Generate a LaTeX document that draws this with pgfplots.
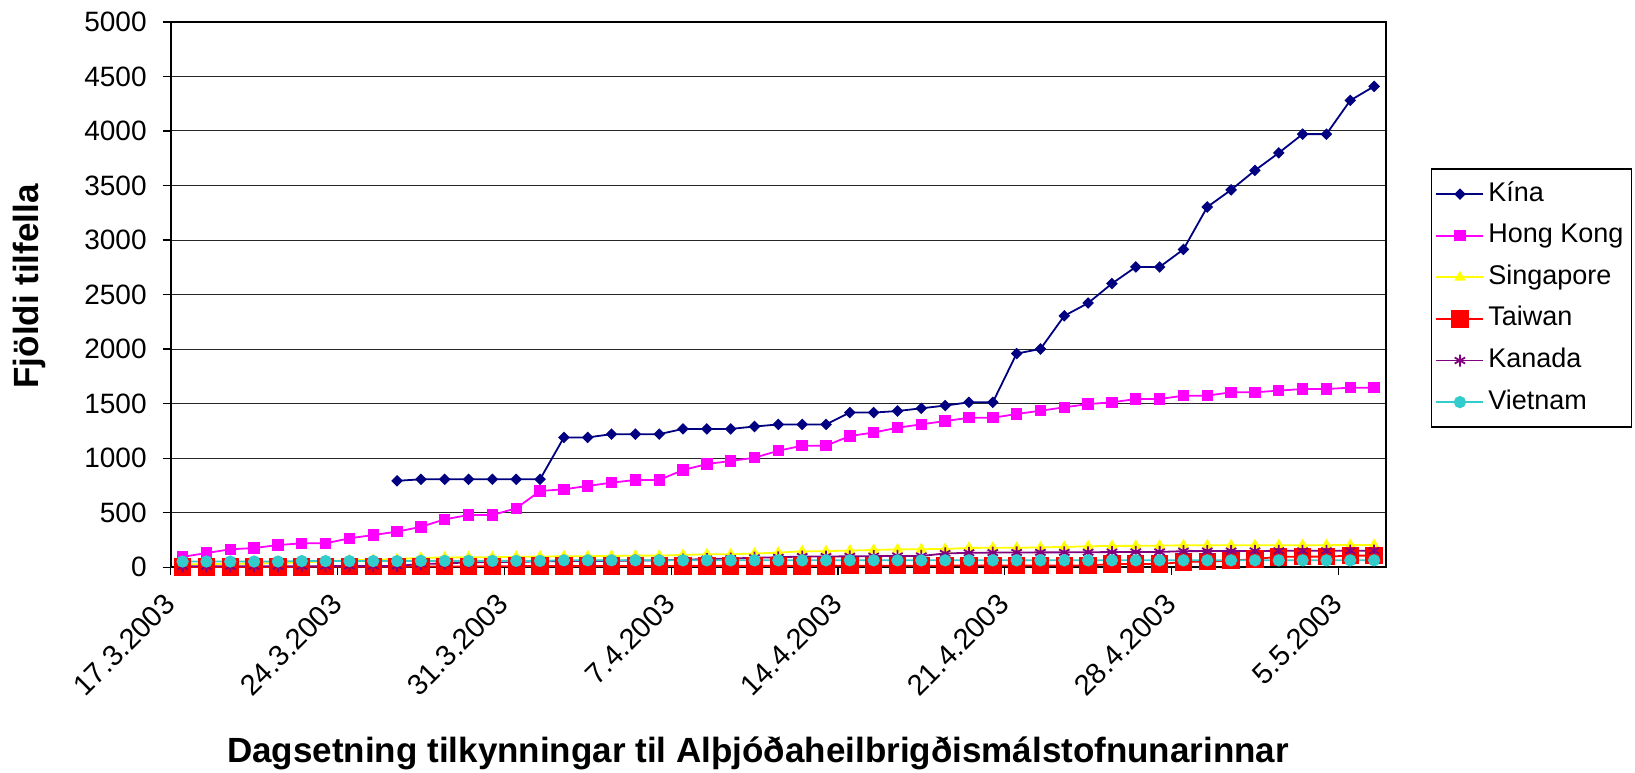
\documentclass[border=0pt]{standalone}
\usepackage{fontspec}
\setmainfont{Liberation Sans}
\usepackage{pgfplots}
\usepackage{pgfplotstable}
\pgfplotsset{compat=1.18}
\definecolor{kina}{RGB}{0,0,128}
\definecolor{hk}{RGB}{255,0,255}
\definecolor{sg}{RGB}{255,255,0}
\definecolor{tw}{RGB}{255,0,0}
\definecolor{ca}{RGB}{128,0,128}
\definecolor{vn}{RGB}{51,204,204}
\pgfplotstableread{
d china hk sg tw ca vn
0 nan 95 25 2 8 52
1 nan 130 28 2 8 52
2 nan 164 31 2 8 52
3 nan 176 34 2 9 52
4 nan 203 39 2 9 52
5 nan 219 44 3 9 56
6 nan 219 54 4 10 56
7 nan 265 65 4 11 56
8 nan 295 69 4 11 56
9 792 326 74 5 12 56
10 806 370 86 6 29 58
11 806 439 89 6 35 58
12 806 479 91 8 44 58
13 806 479 92 8 47 58
14 806 540 95 10 48 58
15 806 699 98 10 54 58
16 1190 714 100 10 56 63
17 1190 745 101 10 58 63
18 1220 775 103 10 58 63
19 1220 800 106 10 62 63
20 1220 800 106 10 62 63
21 1268 891 113 12 69 63
22 1268 946 118 12 74 63
23 1268 974 118 12 79 63
24 1290 1004 126 12 87 63
25 1309 1068 133 12 91 63
26 1309 1114 147 12 98 63
27 1309 1114 147 12 98 63
28 1418 1203 153 14 100 63
29 1418 1235 158 14 101 63
30 1432 1279 163 14 103 63
31 1457 1310 165 14 103 63
32 1482 1340 167 14 126 63
33 1512 1370 177 16 132 63
34 1512 1370 178 16 134 63
35 1959 1405 178 16 135 63
36 2001 1435 182 16 136 63
37 2305 1466 186 16 136 63
38 2422 1496 192 16 137 63
39 2601 1512 195 29 139 63
40 2753 1542 196 29 140 63
41 2753 1542 198 29 140 63
42 2914 1573 201 48 147 63
43 3303 1573 201 51 148 63
44 3460 1604 201 60 148 63
45 3638 1604 201 75 149 63
46 3799 1619 202 95 150 63
47 3971 1634 202 97 150 63
48 3971 1634 202 97 150 63
49 4280 1646 203 106 151 63
50 4409 1646 203 106 151 63
}\data
\begin{document}
\begin{tikzpicture}
\begin{axis}[
  scale only axis, width=607.65pt, height=272.65pt,
  xmin=0, xmax=51, ymin=0, ymax=5000,
  xtick={0,7,14,21,28,35,42,49},
  xticklabels={17.3.2003,24.3.2003,31.3.2003,7.4.2003,14.4.2003,21.4.2003,28.4.2003,5.5.2003},
  ytick distance=500,
  tick align=outside, tick pos=left,
  major tick length=4pt,
  tick style={black, line width=0.6pt},
  ymajorgrids, grid style={black!85, line width=0.5pt},
  axis line style={black, line width=0.9pt},
  /pgf/number format/assume math mode=true,
  /pgf/number format/1000 sep={},
  yticklabel style={font=\fontsize{14}{16}\selectfont, xshift=-4.5pt},
  xticklabel shift=9.5pt,
  xticklabel style={font=\fontsize{14.5}{16}\selectfont, xshift=2pt, rotate=45, anchor=east},
  xlabel={Dagsetning tilkynningar til Alþjóðaheilbrigðismálstofnunarinnar},
  ylabel={Fjöldi tilfella},
  every axis y label/.style={at={(axis description cs:-0.1166,0.515)}, rotate=90, anchor=center, font=\bfseries\fontsize{17.5}{20}\selectfont},
  every axis x label/.style={at={(axis description cs:0.4833,-0.3407)}, anchor=center, font=\bfseries\fontsize{17.5}{20}\selectfont},
  legend style={at={(axis description cs:1.0368,0.7315)}, anchor=north west,
    draw=black, line width=0.8pt, inner xsep=2pt, inner ysep=4pt, row sep=3.8pt,
    font=\fontsize{13.5}{16}\selectfont,
    nodes={inner sep=2pt, text height=10pt, text depth=3pt}},
  legend cell align=left,
  legend image code/.code={\draw[mark repeat=2,mark phase=2,#1] plot coordinates {(0pt,0pt) (11.75pt,0pt) (23.5pt,0pt)};},
  every axis plot/.append style={line width=0.9pt},
]
\addplot[color=kina, mark=square*, mark size=1.6pt, mark options={rotate=45, solid, fill=kina}] table[x expr=\thisrow{d}+0.5, y=china] {\data};
\addlegendentry{Kína}
\addplot[color=hk, mark=square*, mark size=2.4pt, mark options={solid, fill=hk}] table[x expr=\thisrow{d}+0.5, y=hk] {\data};
\addlegendentry{Hong Kong}
\addplot[color=sg, mark=triangle*, mark size=2.4pt, mark options={solid, fill=sg}] table[x expr=\thisrow{d}+0.5, y=sg] {\data};
\addlegendentry{Singapore}
\addplot[color=tw, mark=square*, mark size=3.9pt, mark options={solid, fill=tw}] table[x expr=\thisrow{d}+0.5, y=tw] {\data};
\addlegendentry{Taiwan}
\addplot[color=ca, mark=asterisk, mark size=3pt, mark options={solid, line width=0.9pt}] table[x expr=\thisrow{d}+0.5, y=ca] {\data};
\addlegendentry{Kanada}
\addplot[color=vn, mark=*, mark size=2.6pt, mark options={solid, fill=vn}] table[x expr=\thisrow{d}+0.5, y=vn] {\data};
\addlegendentry{Vietnam}
\end{axis}
\pgfresetboundingbox
\useasboundingbox (-85.35pt,-102.4pt) rectangle (732.15pt,283.6pt);
\end{tikzpicture}
\end{document}
